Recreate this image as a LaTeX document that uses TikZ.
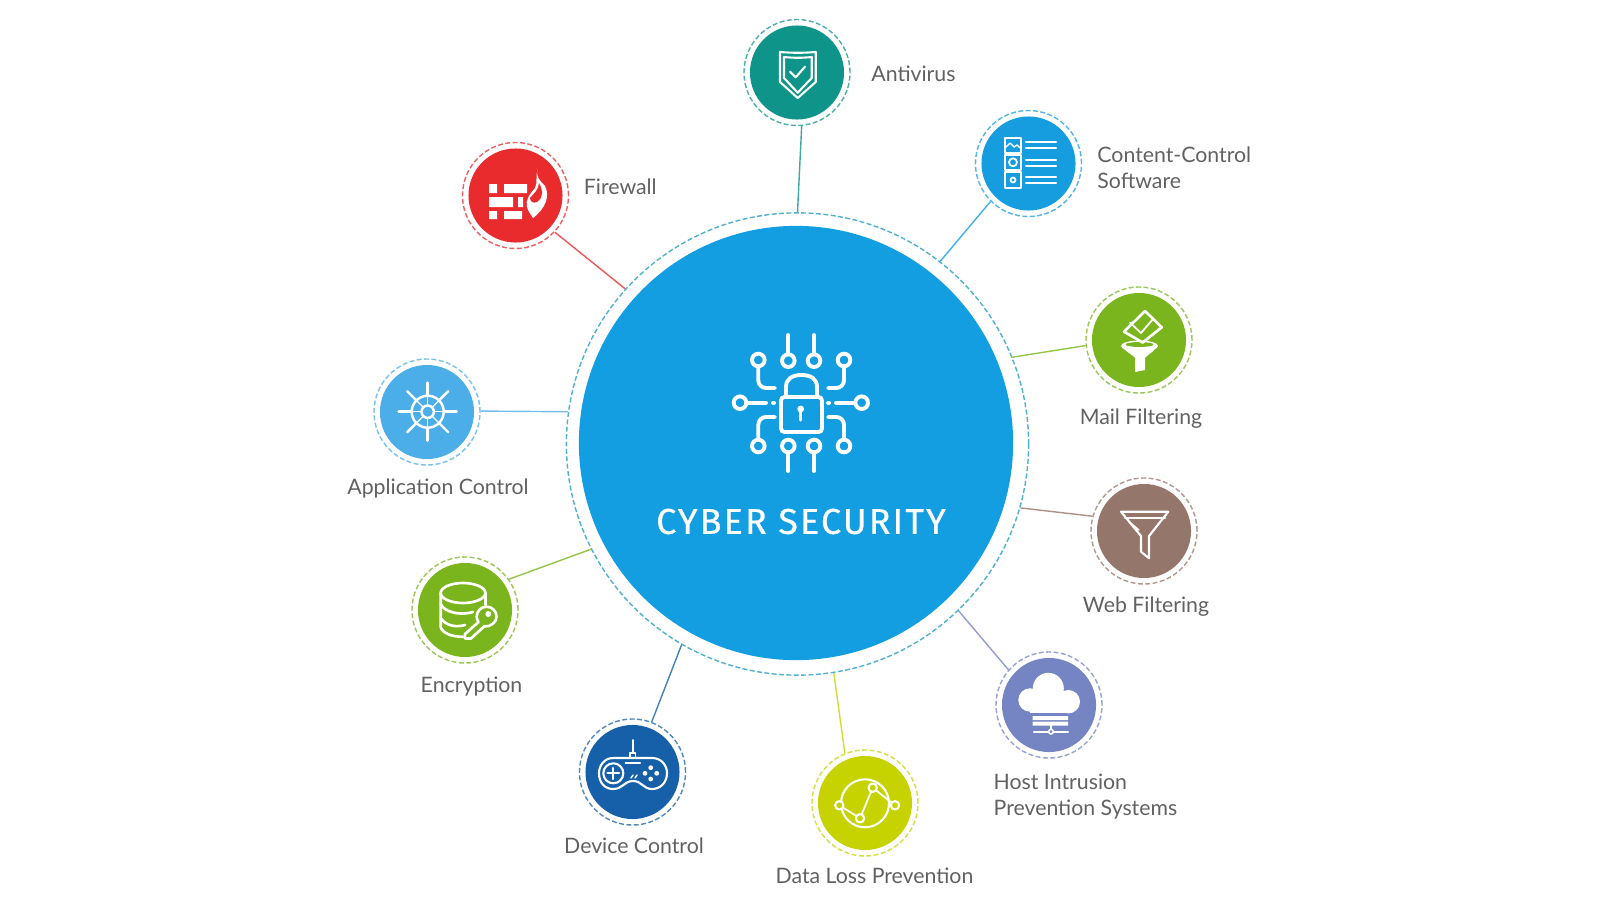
\documentclass[tikz,border=0pt]{standalone}
\usepackage{fontspec}
\usepackage{tikz}
\usetikzlibrary{positioning}
\setmainfont{Lato}
\newfontfamily\hubfont[LetterSpace=6,FakeBold=0.6]{Fira Sans}
\definecolor{HubBlue}{HTML}{139EE2}
\definecolor{HubRing}{HTML}{4FB0D0}
\definecolor{AvTeal}{HTML}{0E9488}
\definecolor{FwRed}{HTML}{E92B2D}
\definecolor{CcBlue}{HTML}{159DE0}
\definecolor{LeafGreen}{HTML}{7AB51D}
\definecolor{AppBlue}{HTML}{4BAEE8}
\definecolor{DevBlue}{HTML}{1560A8}
\definecolor{DlpLime}{HTML}{C6D300}
\definecolor{WebBrown}{HTML}{95766B}
\definecolor{HostViolet}{HTML}{7584C3}
\definecolor{LabelGrey}{HTML}{616161}

\begin{document}
\begin{tikzpicture}[x=0.01cm, y=-0.01cm,
    ring/.style={circle, draw=#1!75, line width=0.4pt, dash pattern=on 1.4pt off 0.7pt, minimum size=1.06cm, inner sep=0pt},
    disc/.style={circle, fill=#1, minimum size=0.94cm, inner sep=0pt},
    link/.style={#1!80, line width=0.4pt},
    lbl/.style={font=\fontsize{6.05}{7.5}\selectfont, text=LabelGrey, inner sep=0pt, align=left},
    icon/.style={white, line width=0.6pt, line cap=round, line join=round},
    chip/.style={white, line width=1.1pt, line cap=round}]
  \useasboundingbox (0,0) rectangle (1600,900);

  \node[circle, draw=HubRing, line width=0.4pt, dash pattern=on 1.4pt off 0.7pt, minimum size=4.62cm, inner sep=0pt] (hub) at (797.5,444) {};
  \node[circle, fill=HubBlue, minimum size=4.34cm, inner sep=0pt] (hub disc) at (796,443) {};

  \foreach \nm/\cx/\cy/\clr in {antivirus/797/72.5/AvTeal, firewall/515.5/195.5/FwRed, content/1028.5/163.5/CcBlue,
      mail/1139/340/LeafGreen, application/427/412/AppBlue, encryption/465/610/LeafGreen, device/632.5/772/DevBlue,
      dataloss/865/803/DlpLime, web/1144/531/WebBrown, host/1049/705/HostViolet} {
    \node[ring=\clr] (\nm) at (\cx,\cy) {};
    \node[disc=\clr] (\nm disc) at (\cx,\cy) {};
  }

  \foreach \nm/\a/\b/\clr in {antivirus/90/-85.7/AvTeal, firewall/138.6/-43.5/FwRed, content/52.7/225/CcBlue,
      mail/22.4/186.5/LeafGreen, web/-16.7/164/WebBrown, host/-46.6/139/HostViolet, dataloss/-81.8/112/DlpLime,
      device/-120/69.7/DevBlue, encryption/207.8/35.8/LeafGreen, application/172.6/1/AppBlue} {
    \draw[link=\clr] (hub.\a) -- (\nm.\b);
  }

  % labels
  \node[lbl, right=0.2cm of antivirus, yshift=-0.01cm] (antivirus label) {Antivirus};
  \node[lbl, right=0.14cm of firewall, yshift=0.09cm] (firewall label) {Firewall};
  \node[lbl, right=0.145cm of content, yshift=-0.04cm] (content label) {Content-Control\\Software};
  \node[lbl, below=0.14cm of mail, xshift=0.02cm] (mail label) {Mail Filtering};
  \node[lbl, below=0.12cm of application, xshift=0.11cm] (application label) {Application Control};
  \node[lbl, below=0.12cm of encryption, xshift=0.065cm] (encryption label) {Encryption};
  \node[lbl, below=0.11cm of device, xshift=0.015cm] (device label) {Device Control};
  \node[lbl, below=0.10cm of dataloss, xshift=0.095cm] (dataloss label) {Data Loss Prevention};
  \node[lbl, below=0.11cm of web, xshift=0.02cm] (web label) {Web Filtering};
  \node[lbl, below=0.2cm of host.south west, anchor=north west, xshift=-0.18cm, yshift=-0.1cm] (host label) {Host Intrusion\\Prevention Systems};
  \node[font=\hubfont\fontsize{10.2}{12}\selectfont, text=white, inner sep=0pt] (hub label) at (801,521.5) {CYBER SECURITY};

  % chip and lock
  \draw[chip, rounded corners=1pt] (781,397) rectangle (822,432);
  \draw[chip] (786,397) -- (786,387) .. controls (786,379) and (792,375) .. (801.5,375) .. controls (811,375) and (817,379) .. (817,387) -- (817,397);
  \fill[white] (800.7,409) circle[radius=3.4];
  \draw[chip, line width=0.9pt] (800.7,409) -- (800.7,420);
  \foreach \px in {788.3,814} {
    \draw[chip] (\px,335) -- (\px,354);
    \draw[chip] (\px,360.7) circle[radius=6.3];
    \draw[chip] (\px,452) -- (\px,471);
    \draw[chip] (\px,446) circle[radius=6.3];
  }
  \foreach \px/\py in {758.3/360, 844/360, 758.3/446, 844/446, 740/402.7, 861.7/402.7} {
    \draw[chip] (\px,\py) circle[radius=6.3];
  }
  \draw[chip, rounded corners=2.2pt] (758.3,366) -- (758.3,388) -- (775,388);
  \draw[chip, rounded corners=2.2pt] (844,366) -- (844,388) -- (828,388);
  \draw[chip, rounded corners=2.2pt] (758.3,440) -- (758.3,417) -- (775,417);
  \draw[chip, rounded corners=2.2pt] (844,440) -- (844,417) -- (828,417);
  \draw[chip] (747,402.7) -- (766,402.7) (773,402.7) -- (774,402.7);
  \draw[chip] (855,402.7) -- (836,402.7) (828,402.7) -- (829,402.7);

  % antivirus
  \draw[icon] (780,52) .. controls (792,53) and (804,53) .. (815.7,52) -- (815.7,82) -- (797.7,98) -- (780,82) -- cycle;
  \draw[icon] (784,57) .. controls (793,58) and (803,58) .. (811.7,57) -- (811.7,78) -- (797.7,92.7) -- (784,78) -- cycle;
  \draw[icon] (790,71.7) -- (795.7,77.3) -- (805,66.7);

  % firewall
  \fill[white] (489,184) rectangle (497,193) (504,184) rectangle (527,193)
    (489,197) rectangle (513,207) (518,197) rectangle (523,207)
    (489,211) rectangle (497,219) (504,211) rectangle (522,219);
  \fill[white] (538,169) .. controls (535,176) and (540,181) .. (545,186) .. controls (550,196) and (546,208) .. (533,218)
    .. controls (531,215) and (528,211) .. (527,207) .. controls (525,200) and (530,194) .. (535,188) .. controls (538,183) and (535,175) .. (538,169) -- cycle;
  \fill[FwRed] (539,183) .. controls (543,190) and (544,197) .. (537,202) .. controls (533,204) and (530,201) .. (530,198) .. controls (533,194) and (539,190) .. (539,183) -- cycle;

  % content control
  \draw[icon, line width=0.5pt] (1005,138) rectangle (1021,153) (1005,155) rectangle (1021,170) (1005,172) rectangle (1021,188);
  \foreach \py in {141.7,148.3,160,165.7,177.3,183.3} {
    \draw[icon] (1026,\py) -- (1056,\py);
  }
  \draw[icon, line width=0.5pt] (1013,162.3) circle[radius=4] (1013,180) circle[radius=2.5];
  \draw[icon, line width=0.4pt] (1006,147) -- (1010,143) -- (1014,147) -- (1017,145) -- (1020,148);

  % mail filter
  \fill[white] (1139.5,346) ellipse[x radius=18.5, y radius=5.5];
  \fill[white] (1124,349) .. controls (1128,353) and (1133,355) .. (1135,358) -- (1135,372) -- (1145,370) -- (1145,358) .. controls (1147,355) and (1152,353) .. (1155,349) -- cycle;
  \fill[LeafGreen] (1139.5,344.5) ellipse[x radius=14, y radius=2.5];
  \draw[icon, line width=0.75pt] (1145,311) -- (1161.7,327.3) -- (1142.7,342.5) -- (1124,331.7) -- cycle;
  \draw[icon, line width=0.5pt] (1130,322.7) -- (1141,333) -- (1153,319);

  % application wheel
  \foreach \ang in {0,45,...,315} {
    \draw[icon, line width=0.7pt] (427.7,411.7) ++(\ang:16) -- ++(\ang:13);
    \draw[icon, line width=0.35pt] (427.7,411.7) ++(\ang:6.7) -- ++(\ang:9.3);
  }
  \draw[icon, line width=0.7pt] (427.7,411.7) circle[radius=16];
  \draw[icon, line width=0.7pt] (427.7,411.7) circle[radius=6.2];

  % encryption
  \draw[icon, line width=0.75pt] (463,593) ellipse[x radius=22.3, y radius=10];
  \draw[icon, line width=0.75pt] (440.7,593) -- (440.7,627) .. controls (442,633) and (452,637) .. (463,636.7);
  \draw[icon, line width=0.75pt] (485.3,593) -- (485.3,605);
  \draw[icon, line width=0.75pt] (440.7,604) .. controls (444,612) and (460,616) .. (473,612);
  \draw[icon, line width=0.75pt] (440.7,618) .. controls (445,625) and (455,628) .. (465,625);
  \draw[icon, line width=0.75pt, fill=LeafGreen] (478.5,622) -- (465,634) -- (465,638.5) -- (471,638.5) -- (484,626.5)
    .. controls (491,627) and (496.5,622) .. (496.5,616.7) .. controls (496.5,611) and (492,606.7) .. (486.7,606.7) .. controls (481,606.7) and (476.7,611) .. (476.7,616.7) .. controls (476.7,618.5) and (477.5,620.5) .. (478.5,622) -- cycle;
  \fill[white] (488.3,614) circle[radius=3];

  % device control
  \draw[icon] (613,758) -- (652,758) .. controls (662,758) and (667,766) .. (667,773) .. controls (667,783) and (660,789) .. (652,789)
    .. controls (643,789) and (642,781) .. (633,781) .. controls (624,781) and (623,789) .. (613,789)
    .. controls (605,789) and (599,783) .. (599,773) .. controls (599,766) and (604,758) .. (613,758) -- cycle;
  \draw[icon] (613.3,773.3) circle[radius=10];
  \draw[icon] (607.5,773.3) -- (619,773.3) (613.3,768) -- (613.3,779);
  \draw[icon, line width=0.45pt] (632.7,740) -- (632.7,753);
  \draw[icon, line width=0.45pt] (630,758) -- (630,753) -- (635.4,753) -- (635.4,758);
  \draw[icon] (625.7,763.3) -- (640,763.3);
  \draw[icon, line width=0.4pt] (631,778) -- (633,775) (635,778) -- (637,775);
  \foreach \px/\py in {650.7/767.7, 650.7/779, 645/773.3, 656.7/773.3} {
    \fill[white] (\px,\py) circle[radius=2.4];
  }

  % data loss
  \draw[icon] (865,803.3) circle[radius=24];
  \draw[icon, line width=0.5pt] (839.3,805.3) -- (860,818.3) -- (872.7,787.7) -- (895,805.3);
  \foreach \px/\py in {839.3/805.3, 860/818.3, 872.7/787.7, 895/805.3} {
    \draw[icon, fill=DlpLime] (\px,\py) circle[radius=4.2];
  }

  % web filter
  \draw[icon] (1121,511.7) -- (1168.3,511.7) -- (1149,536) -- (1149,558.3) -- (1141,551.7) -- (1141,536) -- cycle;
  \draw[icon] (1125,518.3) -- (1165,518.3);
  \draw[icon, line width=0.4pt] (1129,521.7) -- (1139,530);

  % host intrusion
  \fill[white] (1030,700) circle[radius=11.7] (1048.3,688.3) circle[radius=15.5] (1068.3,701.7) circle[radius=11.7];
  \fill[white] (1030,695) rectangle (1068,713.4);
  \fill[white] (1032.7,716) rectangle (1068,720) (1032.7,721.5) rectangle (1068,725.5);
  \draw[icon, line width=0.45pt] (1051,725) -- (1051,729);
  \draw[icon] (1034,731.7) -- (1068,731.7);
  \draw[icon, line width=0.45pt, fill=HostViolet] (1051,731.7) circle[radius=2.3];
\end{tikzpicture}
\end{document}
